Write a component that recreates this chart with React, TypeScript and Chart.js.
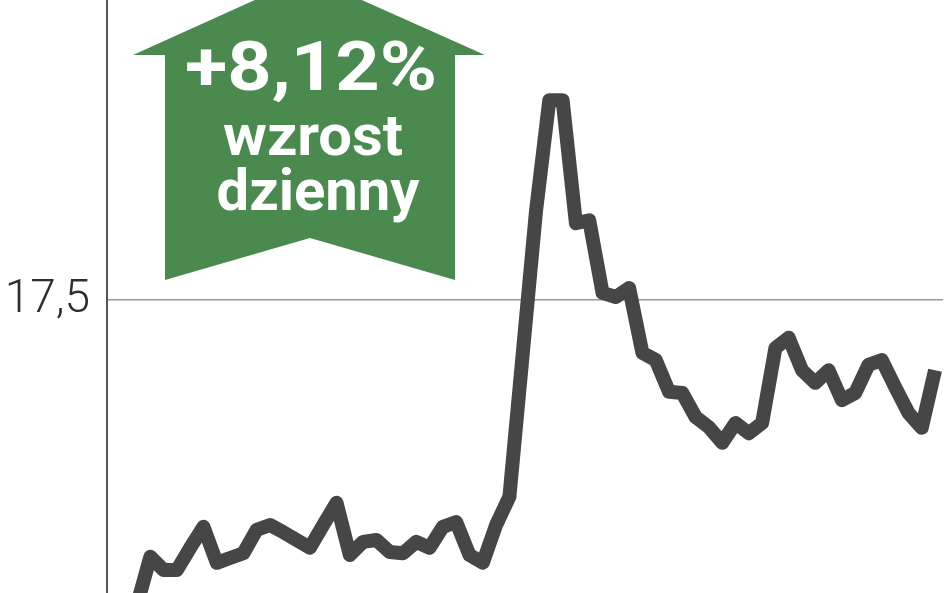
import { useEffect, useRef } from "react";
import { Chart, registerables } from "chart.js";

Chart.register(...registerables);

// trading days (index) and closing price
const days = [
  0, 1, 2, 3, 4, 5, 6, 7, 8, 9, 10, 11, 12, 13, 14, 15, 16, 17, 18, 19, 20,
  21, 22, 23, 24, 25, 26, 27, 28, 29, 30, 31, 32, 33, 34, 35, 36, 37, 38, 39,
  40, 41, 42, 43, 44, 45, 46, 47, 48, 49, 50, 51, 52, 53, 54, 55, 56, 57, 58,
  59, 60,
];
const prices = [
  16.992, 17.072, 17.05, 17.05, 17.087, 17.122, 17.062, 17.07, 17.078, 17.117,
  17.125, 17.113, 17.1, 17.087, 17.125, 17.162, 17.075, 17.097, 17.1, 17.08,
  17.078, 17.097, 17.087, 17.122, 17.13, 17.075, 17.062, 17.125, 17.172,
  17.41, 17.648, 17.833, 17.833, 17.628, 17.633, 17.512, 17.505, 17.52,
  17.412, 17.4, 17.347, 17.345, 17.305, 17.288, 17.262, 17.295, 17.278,
  17.295, 17.42, 17.437, 17.383, 17.362, 17.383, 17.333, 17.345, 17.392, 17.4,
  17.355, 17.312, 17.287, 17.383,
];
const yTicks = [17.5];
const badgeLines = ["+8,12%", "wzrost", "dzienny"];

const GREEN = "#4a8a4f";

// green "up" arrow with the daily change
const arrowBadge = {
  id: "arrowBadge",
  afterDatasetsDraw(chart: Chart) {
    const ctx = chart.ctx;
    ctx.save();
    ctx.fillStyle = GREEN;
    ctx.beginPath();
    ctx.moveTo(308, -24);
    ctx.lineTo(485, 55);
    ctx.lineTo(455, 55);
    ctx.lineTo(455, 280);
    ctx.lineTo(310, 238);
    ctx.lineTo(165, 280);
    ctx.lineTo(165, 55);
    ctx.lineTo(133, 55);
    ctx.closePath();
    ctx.fill();

    const specs = [
      { cx: 311, base: 90, w: 252, size: 68 },
      { cx: 313, base: 155, w: 180, size: 58 },
      { cx: 318, base: 210, w: 203, size: 58 },
    ];
    ctx.fillStyle = "#ffffff";
    ctx.textAlign = "center";
    ctx.textBaseline = "alphabetic";
    badgeLines.forEach((txt, i) => {
      const s = specs[i];
      ctx.font = `bold ${s.size}px Roboto, "Liberation Sans", sans-serif`;
      const mw = ctx.measureText(txt).width;
      ctx.save();
      ctx.translate(s.cx, s.base);
      ctx.scale(s.w / mw, 1);
      ctx.fillText(txt, 0, 0);
      ctx.restore();
    });
    ctx.restore();
  },
};

export default function App() {
  const canvasRef = useRef<HTMLCanvasElement>(null);
  const chartRef = useRef<Chart | null>(null);

  useEffect(() => {
    if (!canvasRef.current) return;
    const ctx = canvasRef.current.getContext("2d");
    if (!ctx) return;

    if (chartRef.current) {
      chartRef.current.destroy();
    }

    chartRef.current = new Chart(ctx, {
      type: "line",
      data: {
        datasets: [
          {
            data: days.map((d, i) => ({ x: d, y: prices[i] })),
            borderColor: "#464646",
            borderWidth: 14,
            borderJoinStyle: "round",
            borderCapStyle: "butt",
            pointRadius: 0,
            tension: 0,
          },
        ],
      },
      options: {
        animation: false,
        responsive: true,
        maintainAspectRatio: false,
        layout: { padding: { top: 0, right: 5, bottom: 0, left: 0 } },
        plugins: {
          legend: { display: false },
          tooltip: { enabled: false },
        },
        scales: {
          x: {
            type: "linear",
            display: false,
            min: -2.256,
            max: 60.6,
          },
          y: {
            min: 17.0117,
            max: 18.0,
            afterBuildTicks: (scale: any) => {
              scale.ticks = yTicks.map((v) => ({ value: v }));
            },
            afterFit: (scale: any) => {
              scale.width = 107;
              scale.paddingTop = 0;
              scale.paddingBottom = 0;
            },
            ticks: {
              padding: 17,
              color: "#2e2e2e",
              font: { family: "Roboto", size: 46, weight: 300 as any },
              callback: (v: any) => String(v).replace(".", ","),
            },
            grid: {
              drawTicks: false,
              color: "#9a9a9a",
              lineWidth: 1.5,
            },
            border: { display: true, color: "#555555", width: 2 },
          },
        },
      },
      plugins: [arrowBadge],
    });

    return () => {
      if (chartRef.current) {
        chartRef.current.destroy();
        chartRef.current = null;
      }
    };
  }, []);

  return (
    <div
      style={{
        position: "fixed",
        inset: 0,
        width: 948,
        height: 593,
        background: "#ffffff",
      }}
    >
      <canvas ref={canvasRef} />
    </div>
  );
}
